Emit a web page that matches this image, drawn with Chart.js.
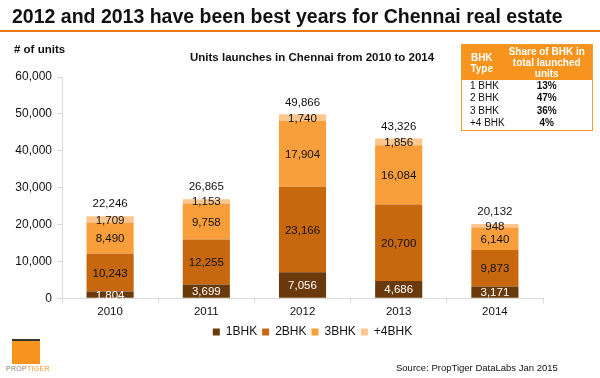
<!DOCTYPE html>
<html>
<head>
<meta charset="utf-8">
<script src="https://cdn.jsdelivr.net/npm/chart.js@4.4.0/dist/chart.umd.min.js"></script>
<style>
  body { margin: 0; width: 600px; height: 378px; background: #fff; font-family: Arial, "Liberation Sans", sans-serif; position: relative; overflow: hidden; }
  #wrap { position: absolute; left: 0; top: 0; width: 600px; height: 378px; }
  .headline { position: absolute; left: 12px; top: 5px; font-size: 19.5px; font-weight: bold; color: #111; }
  .rule { position: absolute; left: 0; top: 30px; width: 600px; height: 2px; background: #e8761b; }
  .units { position: absolute; left: 14px; top: 43px; font-size: 11.5px; font-weight: bold; color: #111; }
  .ctitle { position: absolute; left: 190px; top: 51px; font-size: 11.5px; font-weight: bold; color: #111; }
  table.share { position: absolute; left: 461px; top: 44px; width: 131px; border-collapse: collapse; border: 1px solid #f39a2c; font-size: 10px; table-layout: fixed; }
  table.share th { background: #f7941d; color: #fff; font-weight: bold; padding: 1px 2px; line-height: 11px; text-align: center; height: 32px; }
  table.share td { padding: 0 2px; line-height: 12.3px; color: #111; white-space: nowrap; }
  table.share td.p { text-align: center; font-weight: bold; }
  table.share td.t { padding-left: 8px; }
  table.share tr.last td { padding-bottom: 1px; }
  .logo { position: absolute; left: 12px; top: 339px; width: 28px; height: 23px; background: #f7941d; border-top: 2px solid #333; }
  .logotxt { position: absolute; left: 6px; top: 365px; font-size: 7px; color: #8a7a6a; letter-spacing: 0.3px; }
  .logotxt span { color: #f7941d; }
  .source { position: absolute; left: 396px; top: 362px; font-size: 9.5px; color: #111; }
</style>
</head>
<body>
<div id="wrap"><canvas id="chart" width="600" height="378"></canvas></div>
<div class="headline">2012 and 2013 have been best years for Chennai real estate</div>
<div class="rule"></div>
<div class="units"># of units</div>
<div class="ctitle">Units launches in Chennai from 2010 to 2014</div>
<table class="share">
  <colgroup><col style="width:40px"><col style="width:91px"></colgroup>
  <tr><th>BHK<br>Type</th><th>Share of BHK in total launched units</th></tr>
  <tr><td class="t">1 BHK</td><td class="p">13%</td></tr>
  <tr><td class="t">2 BHK</td><td class="p">47%</td></tr>
  <tr><td class="t">3 BHK</td><td class="p">36%</td></tr>
  <tr class="last"><td class="t">+4 BHK</td><td class="p">4%</td></tr>
</table>
<div class="logo"></div>
<div class="logotxt">PROP<span>TIGER</span></div>
<div class="source">Source: PropTiger DataLabs Jan 2015</div>

<script>
// ------------------ Data ------------------
const years = ["2010", "2011", "2012", "2013", "2014"];
const bhk1 = [1804, 3699, 7056, 4686, 3171];
const bhk2 = [10243, 12255, 23166, 20700, 9873];
const bhk3 = [8490, 9758, 17904, 16084, 6140];
const bhk4 = [1709, 1153, 1740, 1856, 948];
const totals = [22246, 26865, 49866, 43326, 20132];
const yTicks = [0, 10000, 20000, 30000, 40000, 50000, 60000];

const colors = ["#6b3a0c", "#c7680f", "#f89e3a", "#fbc78e"];
const labelColors = ["#fff", "#111", "#111", "#111"];

function fmt(n) {
  return n.toLocaleString("en-US");
}

// draws numbers inside the segments and totals on top
const barLabels = {
  id: "barLabels",
  afterDatasetsDraw(chart) {
    const ctx = chart.ctx;
    ctx.save();
    ctx.font = "11.5px Arial";
    ctx.textAlign = "center";
    ctx.textBaseline = "middle";
    chart.data.datasets.forEach((ds, i) => {
      const meta = chart.getDatasetMeta(i);
      meta.data.forEach((bar, j) => {
        ctx.fillStyle = labelColors[i];
        ctx.fillText(fmt(ds.data[j]), bar.x, (bar.y + bar.base) / 2 + 1);
      });
    });
    const top = chart.getDatasetMeta(3);
    top.data.forEach((bar, j) => {
      ctx.fillStyle = "#111";
      ctx.fillText(fmt(totals[j]), bar.x, bar.y - 12);
    });
    ctx.restore();
  }
};

// nudge the legend to the right, like the original
const legendShift = {
  id: "legendShift",
  afterLayout(chart) {
    chart.legend.left += 41;
    chart.legend.right += 41;
  }
};

new Chart(document.getElementById("chart"), {
  type: "bar",
  data: {
    labels: years,
    datasets: [
      { label: "1BHK", data: bhk1, backgroundColor: colors[0] },
      { label: "2BHK", data: bhk2, backgroundColor: colors[1] },
      { label: "3BHK", data: bhk3, backgroundColor: colors[2] },
      { label: "+4BHK", data: bhk4, backgroundColor: colors[3] }
    ]
  },
  options: {
    responsive: false,
    animation: false,
    layout: { padding: { left: 0, right: 57, top: 77, bottom: 30 } },
    datasets: { bar: { barPercentage: 0.49, categoryPercentage: 1 } },
    scales: {
      x: {
        stacked: true,
        grid: { drawOnChartArea: false, drawTicks: true, tickLength: 5, color: "#d9d9d9", offset: true },
        border: { color: "#d9d9d9" },
        ticks: { color: "#111", font: { size: 11.5, family: "Arial" }, padding: 2 }
      },
      y: {
        stacked: true,
        min: 0,
        max: 60000,
        afterBuildTicks: s => { s.ticks = yTicks.map(v => ({ value: v })); },
        afterFit: s => { s.width = 62; },
        grid: { drawOnChartArea: false, drawTicks: true, tickLength: 5, color: "#d9d9d9" },
        border: { color: "#d9d9d9" },
        ticks: { color: "#111", font: { size: 12, family: "Arial" }, padding: 5, callback: v => fmt(v) }
      }
    },
    plugins: {
      legend: {
        position: "bottom",
        labels: { boxWidth: 7, boxHeight: 7, color: "#111", font: { size: 12, family: "Arial" }, padding: 5 }
      },
      tooltip: { enabled: false }
    }
  },
  plugins: [barLabels, legendShift]
});
</script>
</body>
</html>
